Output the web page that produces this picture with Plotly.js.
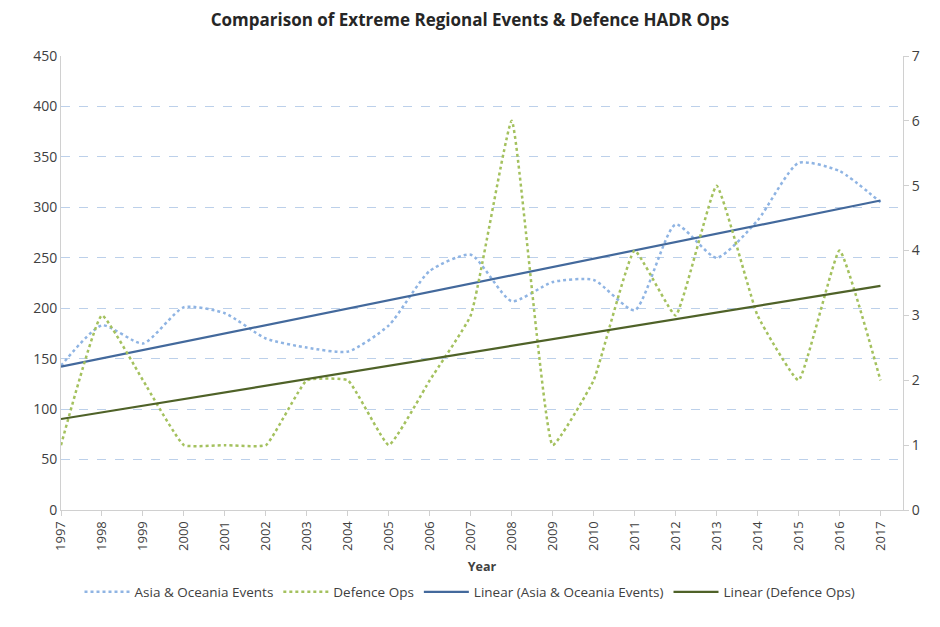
<!DOCTYPE html>
<html>
<head>
<meta charset="utf-8">
<script src="https://cdn.plot.ly/plotly-3.0.1.min.js"></script>
<style>html,body{margin:0;padding:0;background:#fff}#chart{width:940px;height:627px}</style>
</head>
<body>
<div id="chart"></div>
<script>
const years = [1997,1998,1999,2000,2001,2002,2003,2004,2005,2006,2007,2008,2009,2010,2011,2012,2013,2014,2015,2016,2017];
const asiaEvents = [143,183,165,201,195,170,161,157,183,237,253,207,226,228,198,283,250,287,344,336,305];
const defenceOps = [1,3,2,1,1,1,2,2,1,2,3,6,1,2,4,3,5,3,2,4,2];
const leftTicks = [0,50,100,150,200,250,300,350,400,450];
const rightTicks = [0,1,2,3,4,5,6,7];

function linfit(xs, ys) {
  const n = xs.length;
  const mx = xs.reduce((a,b)=>a+b,0)/n, my = ys.reduce((a,b)=>a+b,0)/n;
  let sxy=0, sxx=0;
  for (let i=0;i<n;i++){sxy+=(xs[i]-mx)*(ys[i]-my); sxx+=(xs[i]-mx)**2;}
  const b = sxy/sxx, a = my - b*mx;
  return xs.map(x => a + b*x);
}

const font = "Open Sans, Liberation Sans, sans-serif";
const traces = [
  {x: years, y: asiaEvents, name: 'Asia & Oceania Events', type: 'scatter', mode: 'lines',
   line: {color: '#8fb4e3', width: 2.5, dash: 'dot', shape: 'spline', smoothing: 0.6}, yaxis: 'y'},
  {x: years, y: defenceOps, name: 'Defence Ops', type: 'scatter', mode: 'lines',
   line: {color: '#a4c15e', width: 2.5, dash: 'dot', shape: 'spline', smoothing: 0.35}, yaxis: 'y2'},
  {x: years, y: linfit(years, asiaEvents), name: 'Linear (Asia & Oceania Events)', type: 'scatter', mode: 'lines',
   line: {color: '#43699c', width: 2.2}, yaxis: 'y'},
  {x: years, y: linfit(years, defenceOps), name: 'Linear (Defence Ops)', type: 'scatter', mode: 'lines',
   line: {color: '#4f6228', width: 2.2}, yaxis: 'y2'}
];

const layout = {
  width: 940, height: 627,
  paper_bgcolor: '#fff', plot_bgcolor: '#fff',
  margin: {l: 61, r: 37, t: 56, b: 117},
  font: {family: font, size: 13, color: '#404040'},
  title: {text: '<b>Comparison of Extreme Regional Events & Defence HADR Ops</b>',
          font: {family: font, size: 17, color: '#262626'}, x: 0.5, xanchor: 'center',
          y: 1 - 20/627, yanchor: 'middle'},
  xaxis: {
    range: [1997, 2017.55], tickmode: 'array', tickvals: years, ticktext: years.map(String),
    tickangle: -90, showgrid: false, zeroline: false, showline: true, linecolor: '#d0d0d0', linewidth: 1,
    ticks: 'outside', ticklen: 5, tickcolor: '#d0d0d0', automargin: false,
    tickfont: {family: font, size: 13, color: '#404040'},
    title: {text: '<b>Year</b>', font: {family: font, size: 12.5, color: '#404040'}, standoff: 12}
  },
  yaxis: {
    range: [0, 450], tickmode: 'array', tickvals: leftTicks, showgrid: true, automargin: false,
    gridcolor: '#bcd0ea', griddash: 'dash', gridwidth: 1, zeroline: false,
    showline: true, linecolor: '#d0d0d0', linewidth: 1,
    ticks: '', tickfont: {family: font, size: 14, color: '#404040'}
  },
  yaxis2: {
    range: [0, 7], tickmode: 'array', tickvals: rightTicks, overlaying: 'y', side: 'right', automargin: false,
    showgrid: false, zeroline: false, showline: true, linecolor: '#d0d0d0', linewidth: 1,
    ticks: 'outside', ticklen: 5, tickcolor: '#d0d0d0',
    tickfont: {family: font, size: 14, color: '#404040'}
  },
  legend: {orientation: 'h', x: 0.5, xref: 'container', xanchor: 'center',
           y: (627-592)/627, yref: 'container', yanchor: 'middle',
           font: {family: font, size: 13.5, color: '#404040'}, itemwidth: 45, traceorder: 'normal'},
  showlegend: true
};

Plotly.newPlot('chart', traces, layout, {displayModeBar: false, staticPlot: true});
</script>
</body>
</html>
